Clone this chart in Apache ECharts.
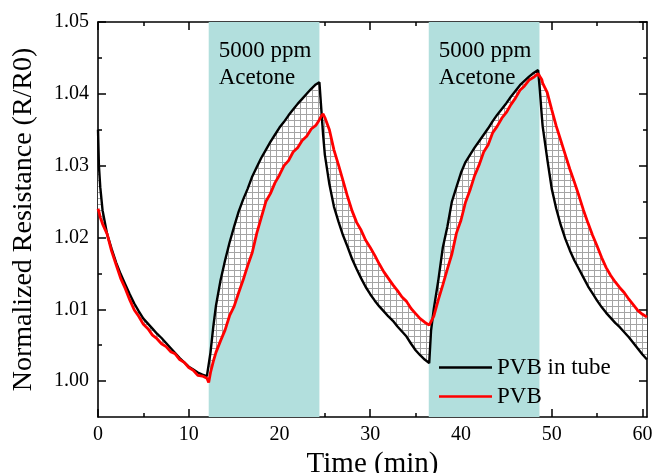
<!DOCTYPE html>
<html><head><meta charset="utf-8">
<script src="https://cdn.jsdelivr.net/npm/echarts@6/dist/echarts.min.js"></script>
<style>html,body{margin:0;padding:0;background:#fff}#c{width:654px;height:473px}</style>
</head><body><div id="c"></div>
<script>
const time = [0, 0.1, 0.25, 0.5, 1, 1.5, 2, 2.5, 3, 3.5, 4, 4.5, 5, 5.5, 6, 6.5, 7, 7.5, 8, 8.5, 9, 9.5, 10, 10.5, 11, 11.5, 12, 12.2,
  12.4, 12.7, 13, 13.5, 14, 14.5, 15, 15.5, 16, 16.5, 17, 17.5, 18, 18.5, 19, 19.5, 20, 20.5, 21, 21.5, 22, 22.5, 23, 23.5, 24, 24.4,
  24.6, 24.8, 25, 25.5, 26, 26.5, 27, 27.5, 28, 28.5, 29, 29.5, 30, 30.5, 31, 31.5, 32, 32.5, 33, 33.5, 34, 34.5, 35, 35.5, 36, 36.5,
  36.7, 37, 37.5, 38, 38.5, 39, 39.5, 40, 40.5, 41, 41.5, 42, 42.5, 43, 43.5, 44, 44.5, 45, 45.5, 46, 46.5, 47, 47.5, 48, 48.5,
  48.7, 48.9, 49, 49.5, 50, 50.5, 51, 51.5, 52, 52.5, 53, 53.5, 54, 54.5, 55, 55.5, 56, 56.5, 57, 57.5, 58, 58.5, 59, 59.5, 60, 60.5];

const pvbInTube = [1.035, 1.030, 1.027, 1.0238, 1.0205, 1.0184, 1.0165, 1.0149, 1.0135, 1.0121, 1.0108, 1.0097, 1.0087, 1.0080, 1.0073, 1.0066, 1.0060, 1.0053, 1.0046, 1.0039, 1.0032, 1.0026, 1.0020, 1.0016, 1.0012, 1.0009, 1.0007, 1.0005,
  1.0040, 1.0075, 1.0105, 1.0140, 1.0168, 1.0193, 1.0215, 1.0236, 1.0253, 1.0268, 1.0285, 1.0298, 1.0311, 1.0322, 1.0333, 1.0343, 1.0353, 1.0361, 1.0370, 1.0378, 1.0386, 1.0393, 1.0400, 1.0407, 1.0413, 1.0416,
  1.0380, 1.0344, 1.0315, 1.0274, 1.0243, 1.0222, 1.0203, 1.0187, 1.0170, 1.0156, 1.0143, 1.0131, 1.0121, 1.0112, 1.0104, 1.0097, 1.0090, 1.0084, 1.0076, 1.0069, 1.0062, 1.0052, 1.0043, 1.0036, 1.0030, 1.0025,
  1.0070, 1.0100, 1.0140, 1.0186, 1.0215, 1.0250, 1.0270, 1.0290, 1.0305, 1.0315, 1.0325, 1.0334, 1.0343, 1.0352, 1.0362, 1.0371, 1.0379, 1.0387, 1.0396, 1.0404, 1.0412, 1.0418, 1.0424, 1.0429, 1.0433,
  1.0404, 1.0370, 1.0355, 1.0310, 1.0268, 1.0240, 1.0217, 1.0198, 1.0182, 1.0168, 1.0156, 1.0144, 1.0132, 1.0122, 1.0112, 1.0103, 1.0095, 1.0088, 1.0081, 1.0075, 1.0068, 1.0061, 1.0053, 1.0045, 1.0037, 1.0030];

const pvb = [1.0240, 1.0236, 1.0228, 1.0219, 1.0205, 1.0181, 1.0162, 1.0143, 1.0129, 1.0113, 1.0099, 1.0090, 1.0079, 1.0073, 1.0064, 1.0059, 1.0052, 1.0048, 1.0041, 1.0038, 1.0030, 1.0026, 1.0019, 1.0015, 1.0008, 1.0007, 1.0004, 0.9998,
  1.0012, 1.0027, 1.0040, 1.0056, 1.0071, 1.0091, 1.0104, 1.0123, 1.0141, 1.0161, 1.0179, 1.0206, 1.0228, 1.0250, 1.0261, 1.0276, 1.0287, 1.0300, 1.0307, 1.0319, 1.0325, 1.0335, 1.0341, 1.0351, 1.0356, 1.0364,
  1.0369, 1.0372, 1.0367, 1.0350, 1.0322, 1.0301, 1.0279, 1.0257, 1.0237, 1.0221, 1.0210, 1.0196, 1.0186, 1.0175, 1.0163, 1.0152, 1.0143, 1.0134, 1.0126, 1.0117, 1.0111, 1.0101, 1.0094, 1.0087, 1.0082, 1.0078,
  1.0076, 1.0090, 1.0113, 1.0134, 1.0156, 1.0177, 1.0206, 1.0224, 1.0249, 1.0266, 1.0286, 1.0301, 1.0319, 1.0329, 1.0346, 1.0355, 1.0366, 1.0374, 1.0385, 1.0394, 1.0405, 1.0411, 1.0419, 1.0423, 1.0428,
  1.0429, 1.0420, 1.0415, 1.0402, 1.0378, 1.0355, 1.0335, 1.0315, 1.0295, 1.0277, 1.0258, 1.0238, 1.0220, 1.0203, 1.0188, 1.0172, 1.0158, 1.0147, 1.0138, 1.0130, 1.0123, 1.0114, 1.0106, 1.0098, 1.0093, 1.0089];

const xTicks = [0, 10, 20, 30, 40, 50, 60];
const xMinorTicks = [5, 15, 25, 35, 45, 55];
const yTicks = [1.00, 1.01, 1.02, 1.03, 1.04, 1.05];
const yMinorTicks = [1.005, 1.015, 1.025, 1.035, 1.045];
const exposures = [[12.2, 24.4], [36.45, 48.65]];
const exposureText = '5000 ppm\nAcetone';
const seriesNames = ['PVB in tube', 'PVB'];
const xTitle = 'Time (min)';
const yTitle = 'Normalized Resistance (R/R0)';

const FONT = 'Liberation Serif';
const X_RANGE = [0, 60.5];
const Y_RANGE = [0.995, 1.05];

// hatch pattern
const pat = document.createElement('canvas');
pat.width = 6; pat.height = 6;
const pc = pat.getContext('2d');
pc.fillStyle = '#ffffff';
pc.fillRect(0, 0, 6, 6);
pc.strokeStyle = '#a4a4a4';
pc.lineWidth = 1;
pc.beginPath();
pc.moveTo(0.5, 0); pc.lineTo(0.5, 6);
pc.moveTo(0, 0.5); pc.lineTo(6, 0.5);
pc.stroke();

function xAxisDef(position, ticks, len, main) {
  return {
    type: 'value', position: position, min: X_RANGE[0], max: X_RANGE[1],
    axisLine: { show: main, onZero: false, lineStyle: { color: '#000', width: 1.6 } },
    axisTick: { show: true, inside: true, length: len, customValues: ticks, lineStyle: { color: '#000', width: 1.5 } },
    axisLabel: (main && position === 'bottom') ? { show: true, customValues: ticks, margin: 8, fontFamily: FONT, fontSize: 20, color: '#000' } : { show: false },
    splitLine: { show: false }, minorTick: { show: false },
    name: (main && position === 'bottom') ? xTitle : '',
    nameLocation: 'middle', nameGap: 24,
    nameTextStyle: { fontFamily: FONT, fontSize: 29, color: '#000' }
  };
}
function yAxisDef(position, ticks, len, main) {
  return {
    type: 'value', position: position, min: Y_RANGE[0], max: Y_RANGE[1],
    axisLine: { show: main, onZero: false, lineStyle: { color: '#000', width: 1.6 } },
    axisTick: { show: true, inside: true, length: len, customValues: ticks, lineStyle: { color: '#000', width: 1.5 } },
    axisLabel: (main && position === 'left') ? { show: true, customValues: ticks, margin: 9, fontFamily: FONT, fontSize: 20, color: '#000', formatter: v => v.toFixed(2) } : { show: false },
    splitLine: { show: false }, minorTick: { show: false },
    name: (main && position === 'left') ? yTitle : '',
    nameLocation: 'middle', nameGap: 60,
    nameTextStyle: { fontFamily: FONT, fontSize: 28, color: '#000' }
  };
}

const chart = echarts.init(document.getElementById('c'), null, { renderer: 'canvas' });
chart.setOption({
  animation: false,
  backgroundColor: '#fff',
  grid: { left: 98, right: 7, top: 22, bottom: 56, containLabel: false, outerBoundsMode: 'none' },
  xAxis: [
    xAxisDef('bottom', xTicks, 8, true),
    xAxisDef('top', xTicks, 8, true),
    xAxisDef('bottom', xMinorTicks, 4, false),
    xAxisDef('top', xMinorTicks, 4, false)
  ],
  yAxis: [
    yAxisDef('left', yTicks, 8, true),
    yAxisDef('right', yTicks, 8, true),
    yAxisDef('left', yMinorTicks, 4, false),
    yAxisDef('right', yMinorTicks, 4, false)
  ],
  legend: {
    data: seriesNames, orient: 'vertical', left: 439, top: 356, padding: 0,
    icon: 'rect', itemWidth: 53, itemHeight: 2.5, itemGap: 6,
    textStyle: { fontFamily: FONT, fontSize: 23, color: '#000', lineHeight: 22 }
  },
  series: [
    {
      name: 'gap', type: 'custom', coordinateSystem: 'cartesian2d', silent: true, z: 3,
      data: [[time[0], pvb[0]]],
      renderItem: function (params, api) {
        const pts = [];
        for (let i = 0; i < time.length; i++) pts.push(api.coord([time[i], pvbInTube[i]]));
        for (let i = time.length - 1; i >= 0; i--) pts.push(api.coord([time[i], pvb[i]]));
        return { type: 'polygon', shape: { points: pts }, style: { fill: { image: pat, repeat: 'repeat' }, stroke: null } };
      },
      markArea: {
        silent: true,
        itemStyle: { color: '#b2dfdd' },
        label: { show: true, position: 'insideTopLeft', distance: 10, offset: [0, 5], formatter: exposureText,
          fontFamily: FONT, fontSize: 23, lineHeight: 27, color: '#000' },
        data: exposures.map(e => [{ xAxis: e[0] }, { xAxis: e[1] }])
      }
    },
    {
      name: seriesNames[0], type: 'line', data: time.map((t, i) => [t, pvbInTube[i]]), z: 4,
      symbol: 'none', color: '#000', lineStyle: { color: '#000', width: 2.4 }
    },
    {
      name: seriesNames[1], type: 'line', data: time.map((t, i) => [t, pvb[i]]), z: 5,
      symbol: 'none', color: '#ff0000', lineStyle: { color: '#ff0000', width: 2.8 }
    }
  ]
});
</script>
</body></html>
